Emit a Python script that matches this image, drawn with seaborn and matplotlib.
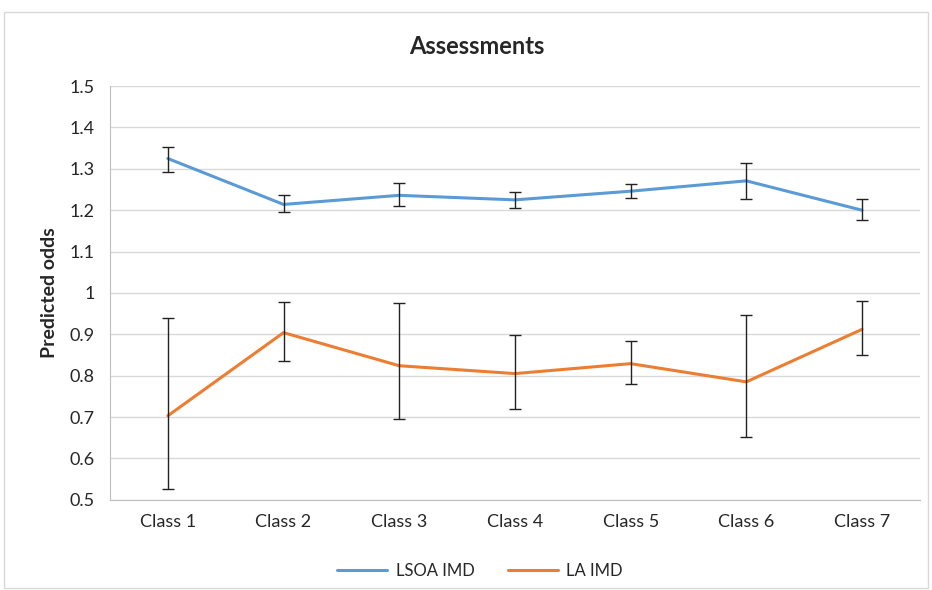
import matplotlib
matplotlib.use("Agg")
import matplotlib.pyplot as plt
import seaborn as sns
import numpy as np
import pandas as pd
from matplotlib.ticker import FuncFormatter

# values
classes = ["Class 1", "Class 2", "Class 3", "Class 4", "Class 5", "Class 6", "Class 7"]
lsoa_odds = [1.325, 1.214, 1.236, 1.225, 1.246, 1.271, 1.200]
lsoa_low = [1.293, 1.196, 1.209, 1.205, 1.229, 1.227, 1.176]
lsoa_high = [1.354, 1.236, 1.266, 1.243, 1.264, 1.313, 1.227]
la_odds = [0.703, 0.904, 0.824, 0.805, 0.829, 0.785, 0.912]
la_low = [0.527, 0.836, 0.695, 0.720, 0.779, 0.652, 0.849]
la_high = [0.939, 0.978, 0.976, 0.899, 0.883, 0.947, 0.981]
series_names = ["LSOA IMD", "LA IMD"]

colors = {"LSOA IMD": "#5B9BD5", "LA IMD": "#ED7D31"}

df = pd.DataFrame({
    "cls": classes * 2,
    "pos": list(range(len(classes))) * 2,
    "odds": lsoa_odds + la_odds,
    "series": [series_names[0]] * len(classes) + [series_names[1]] * len(classes),
})

sns.set_style("white")
plt.rcParams["font.family"] = ["Lato", "DejaVu Sans"]

fig = plt.figure(figsize=(9.32, 5.9), dpi=100)
ax = fig.add_axes([0.118, 0.153, 0.869, 0.701])

sns.lineplot(data=df, x="pos", y="odds", hue="series", palette=colors,
             linewidth=2.2, ax=ax, legend=False, zorder=3)

for vals, lo, hi in [(lsoa_odds, lsoa_low, lsoa_high), (la_odds, la_low, la_high)]:
    v = np.array(vals)
    err = np.vstack([v - np.array(lo), np.array(hi) - v])
    ax.errorbar(np.arange(len(classes)), v, yerr=err, fmt="none",
                ecolor="#222222", elinewidth=1.0, capsize=4, capthick=1.0, zorder=4)

ax.set_xlim(-0.5, len(classes) - 0.5)
ax.set_ylim(0.5, 1.5)
ax.set_yticks(np.arange(0.5, 1.51, 0.1))
ax.yaxis.set_major_formatter(FuncFormatter(lambda v, p: f"{v:g}"))
ax.set_xticks(range(len(classes)))
ax.set_xticklabels(classes)
ax.set_xticks(np.arange(-0.5, len(classes), 1.0), minor=True)
ax.tick_params(axis="x", which="major", length=0, pad=10, labelsize=13, labelcolor="#262626")
ax.tick_params(axis="x", which="minor", length=6, color="#BFBFBF", direction="out")
ax.tick_params(axis="y", length=5, color="#BFBFBF", direction="out", pad=6,
               labelsize=13, labelcolor="#262626")
ax.grid(axis="y", color="#D9D9D9", linewidth=1.0)
ax.set_axisbelow(True)
for s in ["top", "right"]:
    ax.spines[s].set_visible(False)
ax.spines["left"].set_color("#BFBFBF")
ax.spines["bottom"].set_color("#BFBFBF")

ax.set_xlabel("")
ax.set_ylabel("Predicted odds", fontsize=14, fontweight="bold", labelpad=8)
fig.text(0.512, 0.922, "Assessments", fontsize=17, fontweight="bold",
         ha="center", va="center")

handles = [plt.Line2D([0], [0], color=colors[n], linewidth=2.2) for n in series_names]
fig.legend(handles, series_names, loc="center", bbox_to_anchor=(0.515, 0.033),
           ncol=2, frameon=False, fontsize=12, handlelength=3.0, columnspacing=2.0,
           handletextpad=0.5, labelcolor="#262626")

fig.patches.append(plt.Rectangle((0.004, 0.004), 0.992, 0.975, transform=fig.transFigure,
                                 fill=False, edgecolor="#D9D9D9", linewidth=1))

fig.savefig("out.png", dpi=100)
plt.close(fig)
